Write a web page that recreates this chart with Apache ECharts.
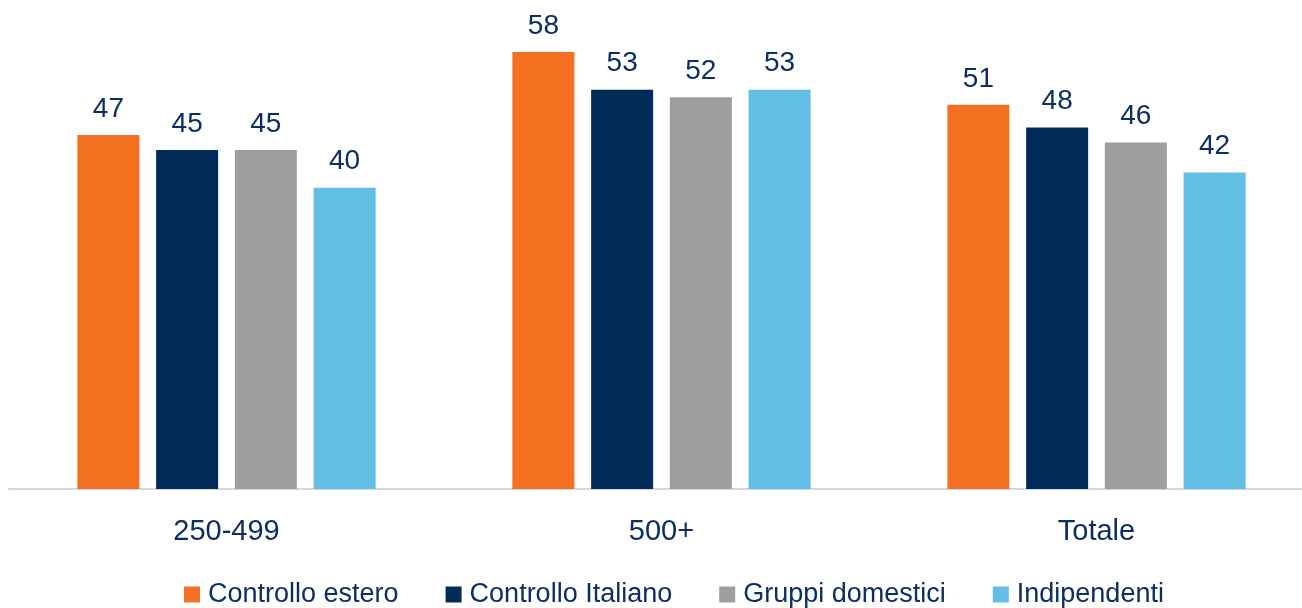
<!DOCTYPE html>
<html>
<head>
<meta charset="utf-8">
<script src="https://cdn.jsdelivr.net/npm/echarts@6/dist/echarts.min.js"></script>
<style>
    html, body { margin: 0; padding: 0; background: #fff; overflow: hidden; }
    #main { width: 1315px; height: 608px; }
</style>
</head>
<body>
<div id="main"></div>
<script>
var categories = ['250-499', '500+', 'Totale']
var seriesNames = ['Controllo estero', 'Controllo Italiano', 'Gruppi domestici', 'Indipendenti']
var controlloEstero = [47, 58, 51]
var controlloItaliano = [45, 53, 48]
var gruppiDomestici = [45, 52, 46]
var indipendenti = [40, 53, 42]
var colors = ['#F37021', '#022B5A', '#9C9EA0', '#63BEE5']

var textColor = '#0B2F62'
// no narrow font installed, so a slightly smaller regular sans is used
var font = '"Liberation Sans Narrow", "Arial Narrow", "Liberation Sans", Arial, sans-serif'

var myChart = echarts.init(document.getElementById('main'))

function makeSeries(name, data, i) {
    return {
        name: name,
        type: 'bar',
        data: data,
        barWidth: 62,
        barGap: '27%',
        itemStyle: { color: colors[i] },
        label: {
            show: true,
            position: 'top',
            distance: 12,
            color: textColor,
            fontFamily: font,
            fontSize: 28
        }
    }
}

var option = {
    animation: false,
    grid: {
        left: 9,
        right: 1,
        top: 37,
        bottom: 119
    },
    legend: {
        top: 576,
        left: 179,
        itemWidth: 16,
        itemHeight: 16,
        itemGap: 47,
        icon: 'rect',
        data: seriesNames,
        textStyle: {
            color: textColor,
            fontFamily: font,
            fontSize: 27,
            padding: [0, 0, 0, 3]
        }
    },
    xAxis: {
        type: 'category',
        data: categories,
        axisLine: { lineStyle: { color: '#D5D8DA', width: 2 } },
        axisTick: { show: false },
        axisLabel: {
            margin: 28,
            color: textColor,
            fontFamily: font,
            fontSize: 29
        }
    },
    yAxis: {
        type: 'value',
        min: 0,
        max: 60,
        show: false,
        splitLine: { show: false }
    },
    series: [
        makeSeries(seriesNames[0], controlloEstero, 0),
        makeSeries(seriesNames[1], controlloItaliano, 1),
        makeSeries(seriesNames[2], gruppiDomestici, 2),
        makeSeries(seriesNames[3], indipendenti, 3)
    ]
}

option && myChart.setOption(option, true)
</script>
</body>
</html>
